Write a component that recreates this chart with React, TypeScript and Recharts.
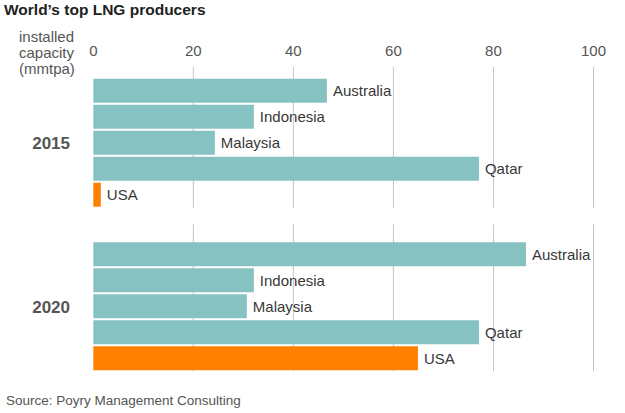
import React from 'react';
import { BarChart, Bar, XAxis, YAxis, CartesianGrid, LabelList, Cell } from 'recharts';

const producers = ['Australia', 'Indonesia', 'Malaysia', 'Qatar', 'USA'];
const capacity2015 = [46.7, 32.1, 24.3, 77.1, 1.5];
const capacity2020 = [86.5, 32.1, 30.7, 77.1, 64.9];
const xTicks = [0, 20, 40, 60, 80, 100];
const gridTicks = [20, 40, 60, 80, 100];

const TEAL = '#86c2c2';
const ORANGE = '#ff7f00';
const FONT = '"Liberation Sans", Arial, Helvetica, sans-serif';

const toRows = (values: number[]) => producers.map((name, i) => ({ name, value: values[i] }));

type GroupProps = {
  values: number[];
  height: number;
  margin: { top: number; right: number; bottom: number; left: number };
  padTop: number;
  showTicks: boolean;
};

const Group: React.FC<GroupProps> = ({ values, height, margin, padTop, showTicks }) => (
  <BarChart width={625} height={height} data={toRows(values)} layout="vertical" margin={margin}>
    <CartesianGrid horizontal={false} verticalValues={gridTicks} stroke="#c4c4c4" />
    <XAxis
      type="number"
      domain={[0, 100]}
      ticks={xTicks}
      orientation="top"
      hide={!showTicks}
      height={margin.top > 0 ? 0 : 67}
      axisLine={false}
      tickLine={false}
      tickSize={0}
      tickMargin={11}
      tick={{ fill: '#555', fontSize: 15, fontFamily: FONT }}
      interval={0}
    />
    <YAxis type="category" dataKey="name" hide padding={{ top: padTop, bottom: 0 }} />
    <Bar dataKey="value" barSize={24} isAnimationActive={false}>
      {producers.map((p) => (
        <Cell key={p} fill={p === 'USA' ? ORANGE : TEAL} />
      ))}
      <LabelList dataKey="name" position="right" offset={6} fill="#383838" fontSize={15} fontFamily={FONT} />
    </Bar>
  </BarChart>
);

const App: React.FC = () => {
  return (
    <div style={{ position: 'absolute', left: 0, top: 0, width: 625, height: 413, background: '#fff', fontFamily: FONT }}>
      <div style={{ position: 'absolute', left: 4, top: 1, fontSize: 15.5, fontWeight: 'bold', color: '#222', lineHeight: '18px' }}>
        World’s top LNG producers
      </div>
      <div style={{ position: 'absolute', left: 19, top: 29, fontSize: 15, color: '#555', lineHeight: '16px' }}>
        installed<br />capacity<br />(mmtpa)
      </div>
      <div style={{ position: 'absolute', top: 0, left: 0 }}>
        <Group
          values={capacity2015}
          height={210}
          margin={{ top: 0, right: 31.5, bottom: 2.3, left: 93.3 }}
          padTop={10.7}
          showTicks
        />
      </div>
      <div style={{ position: 'absolute', top: 210, left: 0 }}>
        <Group
          values={capacity2020}
          height={165}
          margin={{ top: 14.3, right: 31.5, bottom: 3.7, left: 93.3 }}
          padTop={17}
          showTicks={false}
        />
      </div>
      <div style={{ position: 'absolute', left: 20, width: 50, textAlign: 'right', top: 134, fontSize: 17, fontWeight: 'bold', color: '#555', lineHeight: '20px' }}>
        2015
      </div>
      <div style={{ position: 'absolute', left: 20, width: 50, textAlign: 'right', top: 298, fontSize: 17, fontWeight: 'bold', color: '#555', lineHeight: '20px' }}>
        2020
      </div>
      <div style={{ position: 'absolute', left: 6, top: 393, fontSize: 13.5, color: '#555', lineHeight: '16px' }}>
        Source: Poyry Management Consulting
      </div>
    </div>
  );
};

export default App;
